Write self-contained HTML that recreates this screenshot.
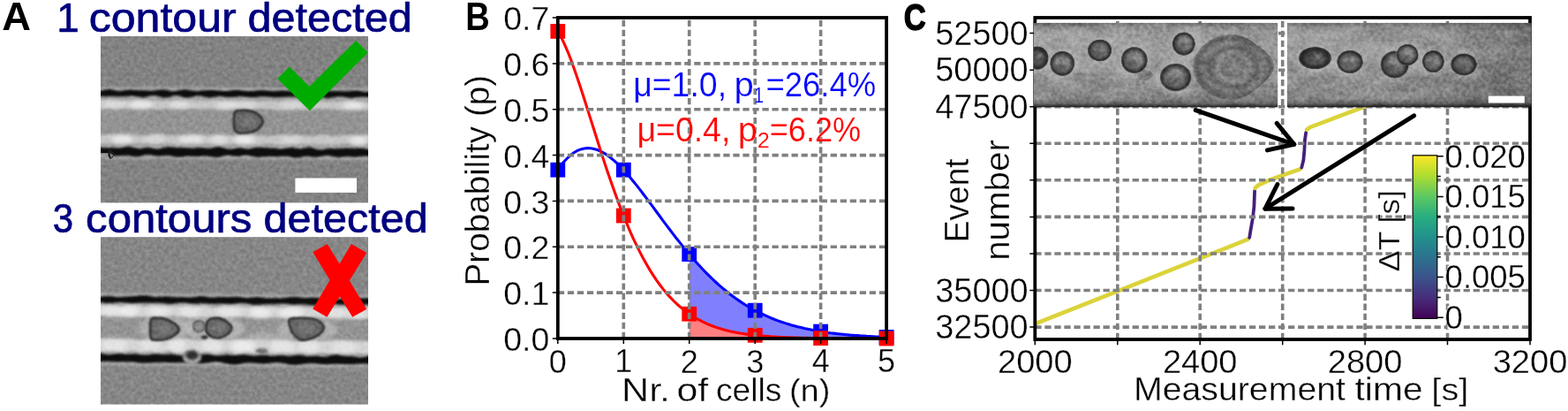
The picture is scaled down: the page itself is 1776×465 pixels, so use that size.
<!DOCTYPE html>
<html lang="en"><head><meta charset="utf-8"><title>Figure</title>
<style>
html,body{margin:0;padding:0;background:#fff;overflow:hidden}
svg{display:block}
text{font-family:"Liberation Sans",sans-serif;white-space:pre}
</style></head><body>
<svg width="1776" height="465" viewBox="0 0 1776 465">
<defs>
<filter id="noise" x="0" y="0" width="100%" height="100%" color-interpolation-filters="sRGB">
<feTurbulence type="fractalNoise" baseFrequency="0.23" numOctaves="2" seed="7"/>
<feColorMatrix type="matrix" values="1.5 0 0 0 -0.25  1.5 0 0 0 -0.25  1.5 0 0 0 -0.25  0 0 0 0 1"/>
</filter>
<filter id="b05" x="-10%" y="-30%" width="120%" height="160%"><feGaussianBlur stdDeviation="0.6"/></filter>
<filter id="b1" x="-10%" y="-30%" width="120%" height="160%"><feGaussianBlur stdDeviation="1"/></filter>
<filter id="b2" x="-10%" y="-30%" width="120%" height="160%"><feGaussianBlur stdDeviation="1.8"/></filter>
<filter id="b3" x="-10%" y="-30%" width="120%" height="160%"><feGaussianBlur stdDeviation="2.6"/></filter>
<clipPath id="cA1"><rect x="114" y="41" width="303" height="188.3"/></clipPath>
<clipPath id="cA2"><rect x="114" y="268.2" width="303" height="189.3"/></clipPath>
<clipPath id="cCax"><rect x="1172.3" y="20.0" width="560.7" height="364.0"/></clipPath>
<linearGradient id="gs" gradientUnits="userSpaceOnUse" x1="0" y1="25.8" x2="0" y2="121.5">
<stop offset="0" stop-color="#6e6e6e"/><stop offset="0.05" stop-color="#8c8c8c"/><stop offset="0.12" stop-color="#9b9b9b"/><stop offset="0.4" stop-color="#9a9a9a"/><stop offset="0.72" stop-color="#909090"/><stop offset="0.9" stop-color="#848484"/><stop offset="0.95" stop-color="#686868"/><stop offset="0.98" stop-color="#383838"/><stop offset="1" stop-color="#101010"/>
</linearGradient>
<linearGradient id="gsh" x1="0" y1="0" x2="1" y2="0"><stop offset="0" stop-color="#000" stop-opacity="0"/><stop offset="0.55" stop-color="#000" stop-opacity="0.04"/><stop offset="1" stop-color="#000" stop-opacity="0.24"/></linearGradient>
<radialGradient id="cg"><stop offset="0" stop-color="#868686"/><stop offset="0.5" stop-color="#777"/><stop offset="0.7" stop-color="#545454"/><stop offset="0.86" stop-color="#2c2c2c"/><stop offset="0.95" stop-color="#565656"/><stop offset="1" stop-color="#909090" stop-opacity="0.2"/></radialGradient>
<radialGradient id="cgd"><stop offset="0" stop-color="#5c5c5c"/><stop offset="0.5" stop-color="#4c4c4c"/><stop offset="0.8" stop-color="#282828"/><stop offset="0.93" stop-color="#343434"/><stop offset="1" stop-color="#6a6a6a" stop-opacity="0.3"/></radialGradient>
<radialGradient id="bg"><stop offset="0" stop-color="#8a8a8a"/><stop offset="0.26" stop-color="#707070"/><stop offset="0.4" stop-color="#828282"/><stop offset="0.58" stop-color="#5e5e5e"/><stop offset="0.74" stop-color="#7a7a7a"/><stop offset="0.9" stop-color="#5c5c5c"/><stop offset="0.97" stop-color="#6c6c6c"/><stop offset="1" stop-color="#909090" stop-opacity="0.2"/></radialGradient>
<filter id="noise2" x="0" y="0" width="100%" height="100%" color-interpolation-filters="sRGB">
<feTurbulence type="fractalNoise" baseFrequency="0.035 0.06" numOctaves="2" seed="23"/>
<feColorMatrix type="matrix" values="2.4 0 0 0 -0.7  2.4 0 0 0 -0.7  2.4 0 0 0 -0.7  0 0 0 0 1"/>
</filter>
<clipPath id="cC1"><rect x="1171.0" y="25.8" width="276.4000000000001" height="95.7"/></clipPath>
<clipPath id="cC2"><rect x="1457.7" y="25.8" width="277.0" height="95.7"/></clipPath>
<linearGradient id="vir" x1="0" y1="1" x2="0" y2="0">
<stop offset="0" stop-color="#440154"/><stop offset="0.125" stop-color="#472d7b"/><stop offset="0.25" stop-color="#3b528b"/><stop offset="0.375" stop-color="#2c728e"/><stop offset="0.5" stop-color="#21918c"/><stop offset="0.625" stop-color="#28ae80"/><stop offset="0.75" stop-color="#5ec962"/><stop offset="0.875" stop-color="#addc30"/><stop offset="1" stop-color="#fde725"/>
</linearGradient>
</defs>
<g clip-path="url(#cA1)">
<rect x="114" y="41" width="303" height="188.3" fill="#828282"/>
<g transform="matrix(1 0.004 0 1 0 -1.062)">
<g filter="url(#b2)">
<rect x="94" y="99.0" width="343" height="81.4" fill="#a6a6a6"/>
<rect x="94" y="112.4" width="343" height="52.19999999999999" fill="#939393"/>
</g>
<g filter="url(#b2)">
<path d="M94.0,113.4 L97.0,113.4 L100.0,113.5 L103.0,113.6 L106.0,113.7 L109.0,113.7 L112.0,113.6 L115.0,113.6 L118.0,113.5 L121.0,113.4 L124.0,113.5 L127.0,113.6 L130.0,113.9 L133.0,114.1 L136.0,114.3 L139.0,114.4 L142.0,114.3 L145.0,114.2 L148.0,114.0 L151.0,113.9 L154.0,113.8 L157.0,113.9 L160.0,114.0 L163.0,114.1 L166.0,114.3 L169.0,114.3 L172.0,114.3 L175.0,114.2 L178.0,114.0 L181.0,113.9 L184.0,113.9 L187.0,114.0 L190.0,114.1 L193.0,114.2 L196.0,114.3 L199.0,114.2 L202.0,114.1 L205.0,113.8 L208.0,113.6 L211.0,113.4 L214.0,113.3 L217.0,113.3 L220.0,113.4 L223.0,113.5 L226.0,113.6 L229.0,113.7 L232.0,113.7 L235.0,113.7 L238.0,113.7 L241.0,113.6 L244.0,113.7 L247.0,113.8 L250.0,114.0 L253.0,114.2 L256.0,114.3 L259.0,114.3 L262.0,114.2 L265.0,114.1 L268.0,113.9 L271.0,113.8 L274.0,113.7 L277.0,113.8 L280.0,114.0 L283.0,114.2 L286.0,114.3 L289.0,114.4 L292.0,114.4 L295.0,114.3 L298.0,114.2 L301.0,114.0 L304.0,114.0 L307.0,114.0 L310.0,114.1 L313.0,114.1 L316.0,114.1 L319.0,114.0 L322.0,113.8 L325.0,113.6 L328.0,113.4 L331.0,113.2 L334.0,113.1 L337.0,113.2 L340.0,113.4 L343.0,113.6 L346.0,113.8 L349.0,113.9 L352.0,114.0 L355.0,113.9 L358.0,113.8 L361.0,113.8 L364.0,113.8 L367.0,113.9 L370.0,114.0 L373.0,114.1 L376.0,114.2 L379.0,114.2 L382.0,114.1 L385.0,113.9 L388.0,113.8 L391.0,113.7 L394.0,113.8 L397.0,113.9 L400.0,114.1 L403.0,114.3 L406.0,114.5 L409.0,114.6 L412.0,114.5 L415.0,114.4 L418.0,114.2 L421.0,114.0 L424.0,113.9 L427.0,113.8 L430.0,113.8 L433.0,113.9 L436.0,113.8 L439.0,113.8 L439.0,123.4 L436.0,123.4 L433.0,123.3 L430.0,123.2 L427.0,123.1 L424.0,123.2 L421.0,123.5 L418.0,123.8 L415.0,124.1 L412.0,124.1 L409.0,123.9 L406.0,123.6 L403.0,123.3 L400.0,123.2 L397.0,123.4 L394.0,123.8 L391.0,124.1 L388.0,124.2 L385.0,124.0 L382.0,123.7 L379.0,123.3 L376.0,123.0 L373.0,122.9 L370.0,122.9 L367.0,123.0 L364.0,123.0 L361.0,122.9 L358.0,122.9 L355.0,123.0 L352.0,123.2 L349.0,123.5 L346.0,123.8 L343.0,123.9 L340.0,123.8 L337.0,123.6 L334.0,123.4 L331.0,123.5 L328.0,123.8 L325.0,124.2 L322.0,124.6 L319.0,124.7 L316.0,124.5 L313.0,124.1 L310.0,123.6 L307.0,123.2 L304.0,123.1 L301.0,123.1 L298.0,123.2 L295.0,123.2 L292.0,123.1 L289.0,123.0 L286.0,122.9 L283.0,122.9 L280.0,123.1 L277.0,123.2 L274.0,123.3 L271.0,123.2 L268.0,123.1 L265.0,123.0 L262.0,123.1 L259.0,123.5 L256.0,124.0 L253.0,124.4 L250.0,124.6 L247.0,124.5 L244.0,124.1 L241.0,123.7 L238.0,123.3 L235.0,123.3 L232.0,123.4 L229.0,123.7 L226.0,123.8 L223.0,123.7 L220.0,123.5 L217.0,123.3 L214.0,123.2 L211.0,123.2 L208.0,123.3 L205.0,123.3 L202.0,123.3 L199.0,123.1 L196.0,123.1 L193.0,123.1 L190.0,123.3 L187.0,123.7 L184.0,124.0 L181.0,124.2 L178.0,124.0 L175.0,123.6 L172.0,123.2 L169.0,122.9 L166.0,122.9 L163.0,123.2 L160.0,123.5 L157.0,123.8 L154.0,123.8 L151.0,123.7 L148.0,123.4 L145.0,123.3 L142.0,123.3 L139.0,123.4 L136.0,123.6 L133.0,123.7 L130.0,123.7 L127.0,123.6 L124.0,123.6 L121.0,123.8 L118.0,124.0 L115.0,124.2 L112.0,124.2 L109.0,124.0 L106.0,123.5 L103.0,123.1 L100.0,122.8 L97.0,122.8 L94.0,123.0Z" fill="#c6c6c6"/>
<path d="M94.0,153.5 L97.0,153.1 L100.0,152.7 L103.0,152.5 L106.0,152.7 L109.0,153.0 L112.0,153.4 L115.0,153.6 L118.0,153.5 L121.0,153.1 L124.0,152.7 L127.0,152.5 L130.0,152.5 L133.0,152.7 L136.0,153.0 L139.0,153.2 L142.0,153.1 L145.0,152.9 L148.0,152.6 L151.0,152.6 L154.0,152.8 L157.0,153.3 L160.0,153.8 L163.0,154.1 L166.0,153.9 L169.0,153.3 L172.0,152.7 L175.0,152.1 L178.0,151.9 L181.0,152.0 L184.0,152.5 L187.0,153.0 L190.0,153.4 L193.0,153.5 L196.0,153.4 L199.0,153.3 L202.0,153.2 L205.0,153.2 L208.0,153.3 L211.0,153.3 L214.0,153.2 L217.0,152.9 L220.0,152.6 L223.0,152.4 L226.0,152.4 L229.0,152.6 L232.0,153.0 L235.0,153.3 L238.0,153.4 L241.0,153.3 L244.0,153.1 L247.0,152.9 L250.0,152.8 L253.0,152.9 L256.0,153.1 L259.0,153.2 L262.0,153.3 L265.0,153.2 L268.0,153.1 L271.0,153.0 L274.0,152.9 L277.0,152.8 L280.0,152.8 L283.0,152.7 L286.0,152.6 L289.0,152.6 L292.0,152.7 L295.0,152.9 L298.0,153.3 L301.0,153.7 L304.0,153.9 L307.0,153.8 L310.0,153.5 L313.0,153.0 L316.0,152.5 L319.0,152.3 L322.0,152.3 L325.0,152.5 L328.0,152.8 L331.0,153.0 L334.0,153.0 L337.0,153.0 L340.0,153.0 L343.0,153.1 L346.0,153.4 L349.0,153.6 L352.0,153.7 L355.0,153.5 L358.0,153.1 L361.0,152.6 L364.0,152.2 L367.0,152.1 L370.0,152.4 L373.0,153.0 L376.0,153.4 L379.0,153.6 L382.0,153.5 L385.0,153.1 L388.0,152.6 L391.0,152.4 L394.0,152.5 L397.0,152.9 L400.0,153.4 L403.0,153.7 L406.0,153.7 L409.0,153.4 L412.0,152.9 L415.0,152.6 L418.0,152.5 L421.0,152.6 L424.0,152.9 L427.0,153.0 L430.0,153.0 L433.0,152.8 L436.0,152.6 L439.0,152.6 L439.0,163.1 L436.0,163.2 L433.0,163.2 L430.0,163.3 L427.0,163.2 L424.0,163.1 L421.0,163.0 L418.0,162.9 L415.0,163.1 L412.0,163.5 L409.0,163.7 L406.0,163.8 L403.0,163.6 L400.0,163.0 L397.0,162.4 L394.0,162.0 L391.0,162.0 L388.0,162.3 L385.0,162.8 L382.0,163.3 L379.0,163.6 L376.0,163.7 L373.0,163.6 L370.0,163.5 L367.0,163.5 L364.0,163.5 L361.0,163.4 L358.0,163.3 L355.0,163.1 L352.0,162.9 L349.0,162.7 L346.0,162.7 L343.0,162.7 L340.0,162.7 L337.0,162.7 L334.0,162.7 L331.0,162.8 L328.0,163.0 L325.0,163.3 L322.0,163.6 L319.0,163.9 L316.0,163.8 L313.0,163.5 L310.0,163.0 L307.0,162.6 L304.0,162.4 L301.0,162.6 L298.0,163.1 L295.0,163.5 L292.0,163.7 L289.0,163.7 L286.0,163.4 L283.0,163.0 L280.0,162.6 L277.0,162.5 L274.0,162.6 L271.0,162.7 L268.0,162.9 L265.0,162.9 L262.0,163.0 L259.0,163.1 L256.0,163.3 L253.0,163.5 L250.0,163.6 L247.0,163.6 L244.0,163.5 L241.0,163.3 L238.0,163.3 L235.0,163.2 L232.0,163.2 L229.0,163.1 L226.0,162.8 L223.0,162.5 L220.0,162.1 L217.0,162.0 L214.0,162.3 L211.0,162.8 L208.0,163.5 L205.0,164.0 L202.0,164.2 L199.0,164.0 L196.0,163.5 L193.0,163.1 L190.0,162.8 L187.0,162.8 L184.0,162.9 L181.0,163.1 L178.0,163.1 L175.0,163.1 L172.0,163.0 L169.0,163.0 L166.0,163.0 L163.0,163.0 L160.0,163.0 L157.0,163.0 L154.0,162.9 L151.0,162.9 L148.0,163.0 L145.0,163.1 L142.0,163.3 L139.0,163.4 L136.0,163.3 L133.0,163.1 L130.0,163.0 L127.0,163.0 L124.0,163.2 L121.0,163.6 L118.0,163.8 L115.0,163.8 L112.0,163.5 L109.0,162.9 L106.0,162.3 L103.0,161.9 L100.0,162.0 L97.0,162.3 L94.0,162.8Z" fill="#c6c6c6"/>
</g>
<g filter="url(#b3)" fill="#f0f0f0">
<ellipse cx="130" cy="118.7" rx="14" ry="4.8" opacity="0.5"/>
<ellipse cx="160" cy="118.7" rx="14" ry="4.8" opacity="0.8"/>
<ellipse cx="203" cy="118.7" rx="12" ry="4.8" opacity="0.6"/>
<ellipse cx="258" cy="118.7" rx="14" ry="4.8" opacity="0.6"/>
<ellipse cx="281" cy="118.7" rx="10" ry="4.8" opacity="0.5"/>
<ellipse cx="330" cy="118.7" rx="12" ry="4.8" opacity="0.4"/>
<ellipse cx="400" cy="118.7" rx="12" ry="4.8" opacity="0.8"/>
<ellipse cx="138" cy="158.1" rx="12" ry="5.0" opacity="0.8"/>
<ellipse cx="175" cy="158.1" rx="12" ry="5.0" opacity="0.4"/>
<ellipse cx="217" cy="158.1" rx="14" ry="5.0" opacity="0.7"/>
<ellipse cx="248" cy="158.1" rx="10" ry="5.0" opacity="0.6"/>
<ellipse cx="277" cy="158.1" rx="12" ry="5.0" opacity="0.9"/>
<ellipse cx="330" cy="158.1" rx="12" ry="5.0" opacity="0.4"/>
<ellipse cx="406" cy="158.1" rx="10" ry="5.0" opacity="0.8"/>
</g>
<g filter="url(#b1)" fill="#0c0c0c">
<path d="M94.0,102.7 L97.0,102.3 L100.0,102.0 L103.0,102.0 L106.0,102.5 L109.0,103.1 L112.0,103.3 L115.0,103.0 L118.0,102.3 L121.0,101.7 L124.0,101.5 L127.0,102.0 L130.0,102.7 L133.0,103.3 L136.0,103.4 L139.0,103.0 L142.0,102.4 L145.0,102.0 L148.0,101.9 L151.0,102.1 L154.0,102.4 L157.0,102.6 L160.0,102.6 L163.0,102.6 L166.0,102.7 L169.0,102.9 L172.0,102.9 L175.0,102.7 L178.0,102.3 L181.0,101.8 L184.0,101.7 L187.0,101.9 L190.0,102.6 L193.0,103.2 L196.0,103.5 L199.0,103.3 L202.0,102.6 L205.0,101.9 L208.0,101.5 L211.0,101.6 L214.0,102.1 L217.0,102.7 L220.0,103.1 L223.0,103.2 L226.0,103.0 L229.0,102.6 L232.0,102.3 L235.0,102.1 L238.0,102.1 L241.0,102.1 L244.0,102.3 L247.0,102.5 L250.0,102.8 L253.0,103.0 L256.0,103.0 L259.0,102.8 L262.0,102.5 L265.0,102.1 L268.0,101.9 L271.0,102.0 L274.0,102.3 L277.0,102.7 L280.0,103.0 L283.0,103.1 L286.0,102.9 L289.0,102.6 L292.0,102.2 L295.0,102.1 L298.0,102.1 L301.0,102.3 L304.0,102.6 L307.0,102.8 L310.0,102.8 L313.0,102.7 L316.0,102.5 L319.0,102.3 L322.0,102.3 L325.0,102.4 L328.0,102.6 L331.0,102.6 L334.0,102.6 L337.0,102.5 L340.0,102.3 L343.0,102.3 L346.0,102.4 L349.0,102.6 L352.0,102.7 L355.0,102.7 L358.0,102.6 L361.0,102.4 L364.0,102.3 L367.0,102.3 L370.0,102.4 L373.0,102.5 L376.0,102.5 L379.0,102.5 L382.0,102.5 L385.0,102.6 L388.0,102.7 L391.0,102.8 L394.0,102.7 L397.0,102.3 L400.0,102.0 L403.0,101.8 L406.0,102.1 L409.0,102.6 L412.0,103.2 L415.0,103.4 L418.0,103.1 L421.0,102.5 L424.0,101.8 L427.0,101.5 L430.0,101.8 L433.0,102.4 L436.0,103.0 L439.0,103.2 L439.0,109.4 L436.0,109.4 L433.0,109.5 L430.0,109.6 L427.0,109.8 L424.0,109.9 L421.0,109.8 L418.0,109.6 L415.0,109.3 L412.0,109.1 L409.0,109.2 L406.0,109.5 L403.0,109.8 L400.0,110.2 L397.0,110.2 L394.0,110.0 L391.0,109.5 L388.0,109.0 L385.0,108.8 L382.0,109.0 L379.0,109.4 L376.0,110.0 L373.0,110.4 L370.0,110.4 L367.0,110.0 L364.0,109.5 L361.0,109.0 L358.0,108.8 L355.0,109.0 L352.0,109.4 L349.0,109.9 L346.0,110.2 L343.0,110.2 L340.0,110.0 L337.0,109.6 L334.0,109.3 L331.0,109.2 L328.0,109.2 L325.0,109.3 L322.0,109.5 L319.0,109.7 L316.0,109.9 L313.0,110.0 L310.0,110.0 L307.0,109.8 L304.0,109.5 L301.0,109.2 L298.0,109.1 L295.0,109.2 L292.0,109.5 L289.0,109.9 L286.0,110.1 L283.0,110.1 L280.0,109.8 L277.0,109.4 L274.0,109.1 L271.0,109.1 L268.0,109.4 L265.0,109.8 L262.0,110.1 L259.0,110.1 L256.0,109.8 L253.0,109.3 L250.0,109.0 L247.0,109.0 L244.0,109.5 L241.0,110.1 L238.0,110.4 L235.0,110.3 L232.0,109.8 L229.0,109.0 L226.0,108.5 L223.0,108.6 L220.0,109.3 L217.0,110.1 L214.0,110.8 L211.0,110.8 L208.0,110.2 L205.0,109.2 L202.0,108.4 L199.0,108.2 L196.0,108.7 L193.0,109.7 L190.0,110.6 L187.0,111.0 L184.0,110.6 L181.0,109.8 L178.0,108.9 L175.0,108.5 L172.0,108.6 L169.0,109.2 L166.0,109.9 L163.0,110.4 L160.0,110.4 L157.0,110.0 L154.0,109.5 L151.0,109.1 L148.0,109.1 L145.0,109.3 L142.0,109.6 L139.0,109.8 L136.0,109.8 L133.0,109.7 L130.0,109.6 L127.0,109.5 L124.0,109.6 L121.0,109.7 L118.0,109.7 L115.0,109.6 L112.0,109.5 L109.0,109.4 L106.0,109.4 L103.0,109.5 L100.0,109.7 L97.0,109.8 L94.0,109.8Z"/>
<path d="M94.0,167.1 L97.0,167.5 L100.0,167.5 L103.0,167.2 L106.0,166.9 L109.0,166.9 L112.0,167.2 L115.0,167.5 L118.0,167.8 L121.0,167.8 L124.0,167.7 L127.0,167.6 L130.0,167.8 L133.0,167.9 L136.0,167.8 L139.0,167.3 L142.0,166.6 L145.0,166.3 L148.0,166.5 L151.0,167.3 L154.0,168.1 L157.0,168.6 L160.0,168.4 L163.0,167.7 L166.0,167.2 L169.0,167.2 L172.0,167.8 L175.0,168.5 L178.0,168.9 L181.0,168.6 L184.0,167.8 L187.0,166.9 L190.0,166.5 L193.0,166.5 L196.0,166.9 L199.0,167.2 L202.0,167.3 L205.0,167.3 L208.0,167.3 L211.0,167.4 L214.0,167.7 L217.0,167.9 L220.0,167.8 L223.0,167.4 L226.0,167.2 L229.0,167.2 L232.0,167.6 L235.0,167.9 L238.0,167.9 L241.0,167.4 L244.0,166.6 L247.0,166.2 L250.0,166.4 L253.0,167.2 L256.0,168.2 L259.0,168.8 L262.0,168.8 L265.0,168.2 L268.0,167.5 L271.0,167.3 L274.0,167.6 L277.0,168.1 L280.0,168.4 L283.0,168.2 L286.0,167.6 L289.0,167.0 L292.0,166.7 L295.0,166.8 L298.0,167.0 L301.0,167.1 L304.0,167.2 L307.0,167.2 L310.0,167.4 L313.0,167.8 L316.0,168.2 L319.0,168.2 L322.0,167.8 L325.0,167.2 L328.0,166.7 L331.0,166.7 L334.0,167.2 L337.0,167.8 L340.0,168.0 L343.0,167.6 L346.0,166.9 L349.0,166.3 L352.0,166.4 L355.0,167.2 L358.0,168.2 L361.0,168.9 L364.0,168.9 L367.0,168.5 L370.0,167.8 L373.0,167.5 L376.0,167.5 L379.0,167.7 L382.0,167.8 L385.0,167.6 L388.0,167.3 L391.0,167.0 L394.0,167.0 L397.0,167.2 L400.0,167.3 L403.0,167.3 L406.0,167.1 L409.0,167.0 L412.0,167.3 L415.0,167.9 L418.0,168.5 L421.0,168.5 L424.0,167.9 L427.0,167.0 L430.0,166.3 L433.0,166.2 L436.0,166.8 L439.0,167.5 L439.0,177.1 L436.0,177.0 L433.0,177.2 L430.0,177.7 L427.0,178.0 L424.0,177.8 L421.0,177.3 L418.0,176.6 L415.0,176.2 L412.0,176.1 L409.0,176.4 L406.0,176.8 L403.0,177.0 L400.0,176.9 L397.0,176.7 L394.0,176.6 L391.0,176.7 L388.0,177.0 L385.0,177.4 L382.0,177.4 L379.0,177.0 L376.0,176.3 L373.0,175.7 L370.0,175.4 L367.0,175.7 L364.0,176.4 L361.0,177.1 L358.0,177.4 L355.0,177.3 L352.0,176.9 L349.0,176.6 L346.0,176.7 L343.0,177.1 L340.0,177.8 L337.0,178.2 L334.0,178.2 L331.0,177.7 L328.0,177.1 L325.0,176.6 L322.0,176.4 L319.0,176.6 L316.0,177.0 L313.0,177.1 L310.0,177.1 L307.0,176.8 L304.0,176.7 L301.0,176.9 L298.0,177.3 L295.0,177.6 L292.0,177.7 L289.0,177.4 L286.0,176.7 L283.0,176.0 L280.0,175.7 L277.0,175.8 L274.0,176.3 L271.0,176.8 L268.0,176.9 L265.0,176.6 L262.0,176.2 L259.0,175.8 L256.0,176.0 L253.0,176.6 L250.0,177.4 L247.0,178.0 L244.0,178.1 L241.0,177.8 L238.0,177.2 L235.0,176.7 L232.0,176.6 L229.0,176.8 L226.0,177.1 L223.0,177.2 L220.0,177.1 L217.0,176.9 L214.0,176.7 L211.0,176.9 L208.0,177.4 L205.0,177.8 L202.0,178.0 L199.0,177.8 L196.0,177.2 L193.0,176.6 L190.0,176.3 L187.0,176.4 L184.0,176.8 L181.0,177.0 L178.0,177.0 L175.0,176.5 L172.0,175.8 L169.0,175.4 L166.0,175.5 L163.0,176.1 L160.0,176.9 L157.0,177.6 L154.0,177.8 L151.0,177.5 L148.0,177.0 L145.0,176.6 L142.0,176.5 L139.0,176.7 L136.0,177.0 L133.0,177.1 L130.0,177.0 L127.0,176.7 L124.0,176.5 L121.0,176.6 L118.0,177.1 L115.0,177.6 L112.0,178.0 L109.0,177.9 L106.0,177.6 L103.0,177.1 L100.0,177.0 L97.0,177.2 L94.0,177.5Z"/>
</g>
</g>
<g filter="url(#b05)"><rect x="112" y="173.2" width="11.5" height="5.5" fill="#989898"/><polygon points="122.5,168 130,174 127.5,178.5 124.5,180 122.5,176" fill="#1c1c1c"/><polygon points="124.5,173 128.5,176 125.5,178.5" fill="#8a8a8a"/></g>
<g filter="url(#b1)"><path d="M266.2,127.2 C267.4,125.3 269.3,125.4 272.1,125.1 C274.9,124.8 279.7,124.9 282.9,125.6 C286.2,126.3 289.3,127.3 291.8,129.2 C294.2,131.1 297.5,134.3 297.7,137.0 C297.8,139.7 295.0,143.3 292.7,145.3 C290.5,147.4 287.3,148.5 283.9,149.3 C280.5,150.1 275.1,150.5 272.1,150.2 C269.2,149.9 267.4,149.5 266.2,147.3 C265.1,145.1 265.1,140.3 265.1,137.0 C265.1,133.7 265.1,129.2 266.2,127.2Z" fill="#686868" stroke="#202020" stroke-width="2.6" stroke-linejoin="round"/><ellipse cx="280.6" cy="137.3" rx="8.3" ry="6.4" fill="#808080" opacity="0.5" filter="url(#b1)"/></g>
<rect x="114" y="41" width="303" height="188.3" filter="url(#noise)" opacity="0.13" style="mix-blend-mode:overlay"/>
<rect x="334.4" y="201.5" width="69.6" height="16.4" fill="#fff"/>
<polygon points="327.9,75.4 314.2,89.1 350.8,125.3 416.8,59.5 403.3,46.1 350.4,97.8" fill="#00ab00"/>
</g>
<g clip-path="url(#cA2)">
<rect x="114" y="268.2" width="303" height="189.3" fill="#868686"/>
<g transform="matrix(1 0.009 0 1 0 -2.389)">
<g filter="url(#b2)">
<rect x="94" y="332.8" width="343" height="81.59999999999997" fill="#a6a6a6"/>
<rect x="94" y="345.4" width="343" height="55.0" fill="#939393"/>
</g>
<g filter="url(#b3)" fill="#bcbcbc">
<ellipse cx="187" cy="372" rx="30" ry="14" opacity="0.7"/>
<ellipse cx="243" cy="372" rx="34" ry="14" opacity="0.8"/>
<ellipse cx="348" cy="372" rx="34" ry="14" opacity="0.7"/>
<ellipse cx="300" cy="385" rx="20" ry="10" opacity="0.6"/>
</g>
<g filter="url(#b2)">
<path d="M94.0,346.4 L97.0,346.8 L100.0,347.1 L103.0,347.3 L106.0,347.1 L109.0,346.8 L112.0,346.7 L115.0,346.7 L118.0,346.8 L121.0,346.9 L124.0,346.7 L127.0,346.6 L130.0,346.7 L133.0,347.1 L136.0,347.7 L139.0,348.0 L142.0,347.8 L145.0,347.1 L148.0,346.4 L151.0,345.9 L154.0,346.0 L157.0,346.4 L160.0,346.9 L163.0,347.1 L166.0,346.9 L169.0,346.7 L172.0,346.7 L175.0,346.9 L178.0,347.3 L181.0,347.5 L184.0,347.4 L187.0,347.1 L190.0,346.8 L193.0,346.7 L196.0,346.8 L199.0,346.9 L202.0,346.9 L205.0,346.8 L208.0,346.6 L211.0,346.7 L214.0,347.0 L217.0,347.3 L220.0,347.4 L223.0,347.0 L226.0,346.4 L229.0,345.9 L232.0,346.0 L235.0,346.5 L238.0,347.3 L241.0,347.8 L244.0,347.9 L247.0,347.5 L250.0,347.1 L253.0,346.8 L256.0,346.8 L259.0,346.9 L262.0,346.9 L265.0,346.6 L268.0,346.3 L271.0,346.2 L274.0,346.4 L277.0,346.8 L280.0,347.1 L283.0,347.1 L286.0,347.0 L289.0,346.8 L292.0,346.9 L295.0,347.2 L298.0,347.4 L301.0,347.4 L304.0,347.0 L307.0,346.5 L310.0,346.2 L313.0,346.4 L316.0,347.0 L319.0,347.6 L322.0,347.8 L325.0,347.4 L328.0,346.8 L331.0,346.2 L334.0,346.1 L337.0,346.3 L340.0,346.6 L343.0,346.8 L346.0,346.9 L349.0,346.9 L352.0,347.1 L355.0,347.4 L358.0,347.6 L361.0,347.6 L364.0,347.3 L367.0,346.8 L370.0,346.5 L373.0,346.5 L376.0,346.7 L379.0,347.0 L382.0,346.9 L385.0,346.6 L388.0,346.3 L391.0,346.2 L394.0,346.6 L397.0,347.3 L400.0,347.7 L403.0,347.7 L406.0,347.2 L409.0,346.6 L412.0,346.3 L415.0,346.4 L418.0,346.8 L421.0,347.2 L424.0,347.4 L427.0,347.3 L430.0,347.1 L433.0,347.1 L436.0,347.1 L439.0,347.0 L439.0,358.1 L436.0,357.9 L433.0,357.7 L430.0,357.8 L427.0,357.9 L424.0,358.2 L421.0,358.5 L418.0,358.9 L415.0,359.2 L412.0,359.5 L409.0,359.7 L406.0,359.8 L403.0,359.8 L400.0,359.7 L397.0,359.6 L394.0,359.4 L391.0,359.3 L388.0,359.2 L385.0,359.1 L382.0,359.1 L379.0,359.1 L376.0,359.0 L373.0,358.9 L370.0,358.8 L367.0,358.7 L364.0,358.6 L361.0,358.5 L358.0,358.4 L355.0,358.4 L352.0,358.5 L349.0,358.6 L346.0,358.8 L343.0,359.0 L340.0,359.2 L337.0,359.3 L334.0,359.4 L331.0,359.4 L328.0,359.3 L325.0,359.2 L322.0,359.1 L319.0,358.9 L316.0,358.9 L313.0,358.8 L310.0,358.9 L307.0,359.0 L304.0,359.2 L301.0,359.3 L298.0,359.5 L295.0,359.5 L292.0,359.5 L289.0,359.4 L286.0,359.2 L283.0,358.9 L280.0,358.7 L277.0,358.5 L274.0,358.3 L271.0,358.2 L268.0,358.2 L265.0,358.4 L262.0,358.5 L259.0,358.7 L256.0,359.0 L253.0,359.1 L250.0,359.3 L247.0,359.4 L244.0,359.4 L241.0,359.4 L238.0,359.3 L235.0,359.3 L232.0,359.3 L229.0,359.3 L226.0,359.4 L223.0,359.4 L220.0,359.4 L217.0,359.4 L214.0,359.3 L211.0,359.1 L208.0,358.9 L205.0,358.7 L202.0,358.5 L199.0,358.3 L196.0,358.2 L193.0,358.2 L190.0,358.3 L187.0,358.5 L184.0,358.7 L181.0,358.9 L178.0,359.2 L175.0,359.3 L172.0,359.5 L169.0,359.5 L166.0,359.4 L163.0,359.3 L160.0,359.2 L157.0,359.2 L154.0,359.1 L151.0,359.1 L148.0,359.2 L145.0,359.2 L142.0,359.3 L139.0,359.4 L136.0,359.4 L133.0,359.3 L130.0,359.2 L127.0,358.9 L124.0,358.7 L121.0,358.5 L118.0,358.3 L115.0,358.1 L112.0,358.1 L109.0,358.2 L106.0,358.4 L103.0,358.6 L100.0,358.9 L97.0,359.1 L94.0,359.4Z" fill="#d4d4d4"/>
<path d="M94.0,384.5 L97.0,384.2 L100.0,384.1 L103.0,384.0 L106.0,384.0 L109.0,384.0 L112.0,384.1 L115.0,384.2 L118.0,384.3 L121.0,384.4 L124.0,384.6 L127.0,384.8 L130.0,384.9 L133.0,384.8 L136.0,384.7 L139.0,384.5 L142.0,384.3 L145.0,384.2 L148.0,384.2 L151.0,384.5 L154.0,384.9 L157.0,385.3 L160.0,385.5 L163.0,385.5 L166.0,385.2 L169.0,384.7 L172.0,384.1 L175.0,383.7 L178.0,383.6 L181.0,383.8 L184.0,384.2 L187.0,384.7 L190.0,385.1 L193.0,385.2 L196.0,384.9 L199.0,384.5 L202.0,383.9 L205.0,383.5 L208.0,383.4 L211.0,383.6 L214.0,384.0 L217.0,384.6 L220.0,385.0 L223.0,385.2 L226.0,385.2 L229.0,384.9 L232.0,384.5 L235.0,384.3 L238.0,384.2 L241.0,384.3 L244.0,384.6 L247.0,384.9 L250.0,385.0 L253.0,385.1 L256.0,384.9 L259.0,384.8 L262.0,384.6 L265.0,384.5 L268.0,384.5 L271.0,384.5 L274.0,384.6 L277.0,384.5 L280.0,384.4 L283.0,384.2 L286.0,384.0 L289.0,383.9 L292.0,384.0 L295.0,384.2 L298.0,384.4 L301.0,384.7 L304.0,384.8 L307.0,384.7 L310.0,384.5 L313.0,384.1 L316.0,383.9 L319.0,383.9 L322.0,384.1 L325.0,384.5 L328.0,384.9 L331.0,385.3 L334.0,385.5 L337.0,385.4 L340.0,385.0 L343.0,384.6 L346.0,384.2 L349.0,384.0 L352.0,384.1 L355.0,384.3 L358.0,384.7 L361.0,385.0 L364.0,385.1 L367.0,385.0 L370.0,384.8 L373.0,384.4 L376.0,384.1 L379.0,383.9 L382.0,383.8 L385.0,383.9 L388.0,384.1 L391.0,384.2 L394.0,384.4 L397.0,384.5 L400.0,384.6 L403.0,384.6 L406.0,384.6 L409.0,384.6 L412.0,384.5 L415.0,384.5 L418.0,384.4 L421.0,384.3 L424.0,384.3 L427.0,384.5 L430.0,384.7 L433.0,385.0 L436.0,385.2 L439.0,385.4 L439.0,398.6 L436.0,398.8 L433.0,399.0 L430.0,399.1 L427.0,399.0 L424.0,398.9 L421.0,398.8 L418.0,398.8 L415.0,398.9 L412.0,399.0 L409.0,398.9 L406.0,398.8 L403.0,398.8 L400.0,398.9 L397.0,399.0 L394.0,399.0 L391.0,398.9 L388.0,398.7 L385.0,398.6 L382.0,398.7 L379.0,399.0 L376.0,399.2 L373.0,399.2 L370.0,399.0 L367.0,398.6 L364.0,398.4 L361.0,398.6 L358.0,399.0 L355.0,399.4 L352.0,399.4 L349.0,399.1 L346.0,398.6 L343.0,398.3 L340.0,398.4 L337.0,398.9 L334.0,399.5 L331.0,399.6 L328.0,399.2 L325.0,398.6 L322.0,398.1 L319.0,398.2 L316.0,398.8 L313.0,399.5 L310.0,399.8 L307.0,399.4 L304.0,398.7 L301.0,398.0 L298.0,398.0 L295.0,398.7 L292.0,399.5 L289.0,399.9 L286.0,399.6 L283.0,398.8 L280.0,398.0 L277.0,397.9 L274.0,398.5 L271.0,399.4 L268.0,400.0 L265.0,399.8 L262.0,399.0 L259.0,398.1 L256.0,397.8 L253.0,398.3 L250.0,399.2 L247.0,400.0 L244.0,399.9 L241.0,399.2 L238.0,398.2 L235.0,397.7 L232.0,398.1 L229.0,399.0 L226.0,399.9 L223.0,400.0 L220.0,399.3 L217.0,398.4 L214.0,397.8 L211.0,398.0 L208.0,398.9 L205.0,399.7 L202.0,400.0 L199.0,399.5 L196.0,398.6 L193.0,397.9 L190.0,397.9 L187.0,398.7 L184.0,399.6 L181.0,399.9 L178.0,399.6 L175.0,398.8 L172.0,398.0 L169.0,398.0 L166.0,398.5 L163.0,399.4 L160.0,399.8 L157.0,399.6 L154.0,398.9 L151.0,398.2 L148.0,398.0 L145.0,398.5 L142.0,399.2 L139.0,399.6 L136.0,399.6 L133.0,399.0 L130.0,398.4 L127.0,398.2 L124.0,398.5 L121.0,399.0 L118.0,399.4 L115.0,399.5 L112.0,399.1 L109.0,398.6 L106.0,398.4 L103.0,398.5 L100.0,398.9 L97.0,399.2 L94.0,399.3Z" fill="#d4d4d4"/>
</g>
<g filter="url(#b3)" fill="#f0f0f0">
<ellipse cx="125" cy="352.9" rx="12" ry="6.1" opacity="0.6"/>
<ellipse cx="145" cy="352.9" rx="12" ry="6.1" opacity="0.8"/>
<ellipse cx="180" cy="352.9" rx="12" ry="6.1" opacity="0.7"/>
<ellipse cx="215" cy="352.9" rx="12" ry="6.1" opacity="0.6"/>
<ellipse cx="260" cy="352.9" rx="14" ry="6.1" opacity="0.6"/>
<ellipse cx="295" cy="352.9" rx="12" ry="6.1" opacity="0.8"/>
<ellipse cx="330" cy="352.9" rx="14" ry="6.1" opacity="0.8"/>
<ellipse cx="380" cy="352.9" rx="12" ry="6.1" opacity="0.5"/>
<ellipse cx="405" cy="352.9" rx="10" ry="6.1" opacity="0.5"/>
<ellipse cx="130" cy="391.7" rx="14" ry="7.2" opacity="0.6"/>
<ellipse cx="170" cy="391.7" rx="12" ry="7.2" opacity="0.5"/>
<ellipse cx="200" cy="391.7" rx="10" ry="7.2" opacity="0.7"/>
<ellipse cx="240" cy="391.7" rx="12" ry="7.2" opacity="0.6"/>
<ellipse cx="275" cy="391.7" rx="14" ry="7.2" opacity="0.8"/>
<ellipse cx="320" cy="391.7" rx="14" ry="7.2" opacity="0.6"/>
<ellipse cx="350" cy="391.7" rx="12" ry="7.2" opacity="0.6"/>
<ellipse cx="390" cy="391.7" rx="14" ry="7.2" opacity="0.5"/>
</g>
<g filter="url(#b1)" fill="#0c0c0c">
<path d="M94.0,335.6 L97.0,335.5 L100.0,335.6 L103.0,335.8 L106.0,336.3 L109.0,336.7 L112.0,337.0 L115.0,336.9 L118.0,336.6 L121.0,336.3 L124.0,336.2 L127.0,336.4 L130.0,336.9 L133.0,337.2 L136.0,337.3 L139.0,337.1 L142.0,336.7 L145.0,336.5 L148.0,336.3 L151.0,336.2 L154.0,336.0 L157.0,335.6 L160.0,335.3 L163.0,335.1 L166.0,335.3 L169.0,335.7 L172.0,336.3 L175.0,336.7 L178.0,336.7 L181.0,336.5 L184.0,336.2 L187.0,336.0 L190.0,336.1 L193.0,336.4 L196.0,336.7 L199.0,336.7 L202.0,336.7 L205.0,336.6 L208.0,336.7 L211.0,336.8 L214.0,336.9 L217.0,336.8 L220.0,336.4 L223.0,335.9 L226.0,335.5 L229.0,335.5 L232.0,335.8 L235.0,336.3 L238.0,336.7 L241.0,336.8 L244.0,336.6 L247.0,336.3 L250.0,336.2 L253.0,336.1 L256.0,336.2 L259.0,336.1 L262.0,335.9 L265.0,335.7 L268.0,335.7 L271.0,335.9 L274.0,336.3 L277.0,336.7 L280.0,336.9 L283.0,336.7 L286.0,336.3 L289.0,335.9 L292.0,335.9 L295.0,336.1 L298.0,336.5 L301.0,336.9 L304.0,337.0 L307.0,336.9 L310.0,336.8 L313.0,336.8 L316.0,336.9 L319.0,336.8 L322.0,336.5 L325.0,336.0 L328.0,335.5 L331.0,335.2 L334.0,335.2 L337.0,335.6 L340.0,336.1 L343.0,336.3 L346.0,336.3 L349.0,336.1 L352.0,335.9 L355.0,335.8 L358.0,336.1 L361.0,336.3 L364.0,336.6 L367.0,336.6 L370.0,336.7 L373.0,336.8 L376.0,337.0 L379.0,337.4 L382.0,337.5 L385.0,337.3 L388.0,336.8 L391.0,336.1 L394.0,335.6 L397.0,335.4 L400.0,335.6 L403.0,335.9 L406.0,336.1 L409.0,336.1 L412.0,336.0 L415.0,335.9 L418.0,335.9 L421.0,336.1 L424.0,336.2 L427.0,336.2 L430.0,336.0 L433.0,335.9 L436.0,336.0 L439.0,336.3 L439.0,343.0 L436.0,343.0 L433.0,343.3 L430.0,343.5 L427.0,343.7 L424.0,343.6 L421.0,343.4 L418.0,343.2 L415.0,343.2 L412.0,343.4 L409.0,343.9 L406.0,344.3 L403.0,344.6 L400.0,344.7 L397.0,344.4 L394.0,344.1 L391.0,343.8 L388.0,343.6 L385.0,343.5 L382.0,343.3 L379.0,343.1 L376.0,342.9 L373.0,342.8 L370.0,342.9 L367.0,343.2 L364.0,343.7 L361.0,344.3 L358.0,344.6 L355.0,344.6 L352.0,344.3 L349.0,343.9 L346.0,343.6 L343.0,343.5 L340.0,343.6 L337.0,343.8 L334.0,343.9 L331.0,343.9 L328.0,343.6 L325.0,343.3 L322.0,343.1 L319.0,343.1 L316.0,343.3 L313.0,343.5 L310.0,343.6 L307.0,343.7 L304.0,343.7 L301.0,343.8 L298.0,344.0 L295.0,344.3 L292.0,344.5 L289.0,344.6 L286.0,344.4 L283.0,343.9 L280.0,343.3 L277.0,342.9 L274.0,342.7 L271.0,342.9 L268.0,343.3 L265.0,343.7 L262.0,343.9 L259.0,344.0 L256.0,343.8 L253.0,343.7 L250.0,343.7 L247.0,343.8 L244.0,344.0 L241.0,344.0 L238.0,343.9 L235.0,343.7 L232.0,343.6 L229.0,343.6 L226.0,343.7 L223.0,343.9 L220.0,344.0 L217.0,343.9 L214.0,343.6 L211.0,343.2 L208.0,342.9 L205.0,343.0 L202.0,343.3 L199.0,343.8 L196.0,344.3 L193.0,344.5 L190.0,344.4 L187.0,344.1 L184.0,343.8 L181.0,343.5 L178.0,343.5 L175.0,343.5 L172.0,343.6 L169.0,343.6 L166.0,343.5 L163.0,343.4 L160.0,343.4 L157.0,343.6 L154.0,343.9 L151.0,344.1 L148.0,344.1 L145.0,343.9 L142.0,343.5 L139.0,343.2 L136.0,343.2 L133.0,343.4 L130.0,343.8 L127.0,344.1 L124.0,344.3 L121.0,344.2 L118.0,343.9 L115.0,343.5 L112.0,343.3 L109.0,343.3 L106.0,343.4 L103.0,343.6 L100.0,343.8 L97.0,343.7 L94.0,343.7Z"/>
<path d="M94.0,401.6 L97.0,401.8 L100.0,402.2 L103.0,402.3 L106.0,402.0 L109.0,401.6 L112.0,401.3 L115.0,401.3 L118.0,401.8 L121.0,402.2 L124.0,402.4 L127.0,402.1 L130.0,401.7 L133.0,401.3 L136.0,401.3 L139.0,401.6 L142.0,401.9 L145.0,402.0 L148.0,401.8 L151.0,401.5 L154.0,401.4 L157.0,401.7 L160.0,402.3 L163.0,402.6 L166.0,402.6 L169.0,402.2 L172.0,401.6 L175.0,401.2 L178.0,401.3 L181.0,401.5 L184.0,401.7 L187.0,401.7 L190.0,401.4 L193.0,401.2 L196.0,401.4 L199.0,401.9 L202.0,402.5 L205.0,402.8 L208.0,402.7 L211.0,402.2 L214.0,401.7 L217.0,401.4 L220.0,401.5 L223.0,401.7 L226.0,401.8 L229.0,401.5 L232.0,401.2 L235.0,401.0 L238.0,401.3 L241.0,401.9 L244.0,402.4 L247.0,402.6 L250.0,402.4 L253.0,402.0 L256.0,401.6 L259.0,401.6 L262.0,401.9 L265.0,402.1 L268.0,402.0 L271.0,401.6 L274.0,401.2 L277.0,401.1 L280.0,401.4 L283.0,401.9 L286.0,402.3 L289.0,402.3 L292.0,401.9 L295.0,401.5 L298.0,401.4 L301.0,401.6 L304.0,402.1 L307.0,402.3 L310.0,402.2 L313.0,401.9 L316.0,401.6 L319.0,401.5 L322.0,401.8 L325.0,402.2 L328.0,402.2 L331.0,401.9 L334.0,401.4 L337.0,401.0 L340.0,401.0 L343.0,401.4 L346.0,401.9 L349.0,402.2 L352.0,402.2 L355.0,402.0 L358.0,401.9 L361.0,402.1 L364.0,402.5 L367.0,402.7 L370.0,402.4 L373.0,401.8 L376.0,401.1 L379.0,400.6 L382.0,400.6 L385.0,401.0 L388.0,401.5 L391.0,401.8 L394.0,401.8 L397.0,401.9 L400.0,402.1 L403.0,402.6 L406.0,403.1 L409.0,403.2 L412.0,402.8 L415.0,402.0 L418.0,401.1 L421.0,400.6 L424.0,400.6 L427.0,400.9 L430.0,401.1 L433.0,401.2 L436.0,401.2 L439.0,401.4 L439.0,411.3 L436.0,411.5 L433.0,411.7 L430.0,411.7 L427.0,411.6 L424.0,411.3 L421.0,410.9 L418.0,410.6 L415.0,410.3 L412.0,410.2 L409.0,410.3 L406.0,410.5 L403.0,410.7 L400.0,410.9 L397.0,411.0 L394.0,411.0 L391.0,410.9 L388.0,410.8 L385.0,410.8 L382.0,410.8 L379.0,410.8 L376.0,411.0 L373.0,411.1 L370.0,411.2 L367.0,411.2 L364.0,411.0 L361.0,410.8 L358.0,410.5 L355.0,410.3 L352.0,410.2 L349.0,410.3 L346.0,410.7 L343.0,411.2 L340.0,411.7 L337.0,412.1 L334.0,412.2 L331.0,412.2 L328.0,411.8 L325.0,411.3 L322.0,410.7 L319.0,410.1 L316.0,409.8 L313.0,409.7 L310.0,409.9 L307.0,410.3 L304.0,410.7 L301.0,411.0 L298.0,411.2 L295.0,411.1 L292.0,410.9 L289.0,410.6 L286.0,410.4 L283.0,410.2 L280.0,410.3 L277.0,410.7 L274.0,411.2 L271.0,411.7 L268.0,412.2 L265.0,412.4 L262.0,412.3 L259.0,411.9 L256.0,411.3 L253.0,410.7 L250.0,410.1 L247.0,409.7 L244.0,409.6 L241.0,409.8 L238.0,410.2 L235.0,410.7 L232.0,411.1 L229.0,411.4 L226.0,411.5 L223.0,411.4 L220.0,411.1 L217.0,410.9 L214.0,410.6 L211.0,410.5 L208.0,410.5 L205.0,410.7 L202.0,410.8 L199.0,411.0 L196.0,411.1 L193.0,411.1 L190.0,411.0 L187.0,410.8 L184.0,410.7 L181.0,410.7 L178.0,410.8 L175.0,411.0 L172.0,411.2 L169.0,411.5 L166.0,411.6 L163.0,411.6 L160.0,411.5 L157.0,411.2 L154.0,410.9 L151.0,410.6 L148.0,410.4 L145.0,410.4 L142.0,410.4 L139.0,410.5 L136.0,410.6 L133.0,410.7 L130.0,410.6 L127.0,410.5 L124.0,410.3 L121.0,410.2 L118.0,410.3 L115.0,410.5 L112.0,410.9 L109.0,411.4 L106.0,411.9 L103.0,412.2 L100.0,412.4 L97.0,412.3 L94.0,411.9Z"/>
</g>
</g>
<g filter="url(#b1)"><path d="M171.2,361.3 C172.4,359.3 174.3,359.9 177.1,359.9 C179.9,359.9 184.7,360.3 187.9,361.3 C191.2,362.2 194.3,363.8 196.8,365.7 C199.3,367.5 202.9,370.0 202.9,372.4 C202.9,374.8 199.3,377.9 196.8,379.8 C194.3,381.7 191.2,382.9 187.9,383.7 C184.7,384.5 179.9,384.8 177.1,384.7 C174.3,384.6 172.4,385.4 171.2,383.2 C170.1,381.1 170.1,375.7 170.1,372.0 C170.1,368.3 170.1,363.3 171.2,361.3Z" fill="#686868" stroke="#202020" stroke-width="2.6" stroke-linejoin="round"/><ellipse cx="185.4" cy="372.4" rx="8.3" ry="6.3" fill="#808080" opacity="0.5" filter="url(#b1)"/></g>
<g filter="url(#b1)"><path d="M234.3,365.2 C235.2,362.8 236.9,361.6 239.2,360.8 C241.4,359.9 245.2,359.7 248.0,360.1 C250.7,360.5 253.4,361.4 255.8,363.2 C258.2,365.0 262.2,368.4 262.4,371.0 C262.5,373.6 259.2,376.9 256.8,378.8 C254.4,380.6 250.9,381.9 248.0,382.2 C245.0,382.5 241.5,381.9 239.2,380.7 C236.8,379.5 234.6,377.5 233.8,374.9 C232.9,372.3 233.4,367.5 234.3,365.2Z" fill="#686868" stroke="#202020" stroke-width="2.6" stroke-linejoin="round"/><ellipse cx="247.9" cy="370.8" rx="7.3" ry="5.7" fill="#808080" opacity="0.5" filter="url(#b1)"/></g>
<g filter="url(#b1)"><circle cx="225.3" cy="369.2" r="6.3" fill="#8e8e8e" stroke="#4c4c4c" stroke-width="2"/><ellipse cx="231.5" cy="381.5" rx="4" ry="2.2" fill="#333"/></g>
<g filter="url(#b1)"><path d="M327.9,361.7 C329.0,360.2 331.5,360.3 335.2,360.1 C338.8,359.8 345.8,359.8 349.9,360.3 C354.0,360.7 357.0,361.0 359.8,362.7 C362.6,364.4 366.6,367.8 366.8,370.5 C366.9,373.2 363.6,376.6 360.8,378.8 C358.0,381.0 353.4,382.8 349.9,383.7 C346.5,384.6 343.0,385.1 340.1,384.2 C337.1,383.2 334.2,380.3 332.2,377.8 C330.2,375.3 329.0,371.7 328.3,369.0 C327.5,366.4 326.7,363.2 327.9,361.7Z" fill="#686868" stroke="#202020" stroke-width="2.6" stroke-linejoin="round"/><ellipse cx="346.6" cy="370.9" rx="9.9" ry="6.2" fill="#808080" opacity="0.5" filter="url(#b1)"/></g>
<g filter="url(#b2)"><ellipse cx="217.5" cy="404" rx="10.5" ry="8.5" fill="#a4a4a4"/><ellipse cx="217.5" cy="401.8" rx="7.5" ry="5.5" fill="#2e2e2e"/><ellipse cx="296.5" cy="397" rx="7" ry="3" fill="#6a6a6a"/></g>
<rect x="114" y="268.2" width="303" height="189.3" filter="url(#noise)" opacity="0.13" style="mix-blend-mode:overlay"/>
<polygon points="354.3,285.3 370.8,276.1 415.3,349.8 399.2,358.8" fill="#f00"/>
<polygon points="398,276.1 415.3,286 370.4,358.8 354.3,349.4" fill="#f00"/>
</g>
<polygon points="780.7,287.6 784.4,292.0 788.2,296.2 791.9,300.3 795.6,304.3 799.3,308.2 803.1,311.9 806.8,315.5 810.5,319.0 814.2,322.4 818.0,325.6 821.7,328.7 825.4,331.7 829.1,334.5 832.8,337.3 836.6,339.9 840.3,342.4 844.0,344.7 847.7,347.0 851.5,349.2 855.2,351.2 858.9,353.2 862.6,355.0 866.3,356.7 870.1,358.4 873.8,360.0 877.5,361.5 881.2,362.9 885.0,364.2 888.7,365.4 892.4,366.6 896.1,367.7 899.9,368.7 903.6,369.7 907.3,370.6 911.0,371.5 914.7,372.3 918.5,373.1 922.2,373.8 925.9,374.4 929.6,375.1 933.4,375.6 937.1,376.2 940.8,376.7 944.5,377.1 948.3,377.6 952.0,378.0 955.7,378.4 959.4,378.7 963.1,379.1 966.9,379.4 970.6,379.6 974.3,379.9 978.0,380.1 981.8,380.4 985.5,380.6 989.2,380.8 992.9,381.0 996.7,381.1 1000.4,381.3 1004.1,381.4 1004.1,383.0 780.7,383.0" fill="#8080ff"/>
<polygon points="780.7,355.2 784.4,357.6 788.2,359.9 791.9,362.0 795.6,363.9 799.3,365.6 803.1,367.3 806.8,368.7 810.5,370.1 814.2,371.3 818.0,372.4 821.7,373.4 825.4,374.4 829.1,375.2 832.8,376.0 836.6,376.7 840.3,377.3 844.0,377.9 847.7,378.4 851.5,378.9 855.2,379.3 858.9,379.7 862.6,380.0 866.3,380.3 870.1,380.6 873.8,380.9 877.5,381.1 881.2,381.3 885.0,381.5 888.7,381.6 892.4,381.8 896.1,381.9 899.9,382.0 903.6,382.1 907.3,382.2 911.0,382.3 914.7,382.4 918.5,382.5 922.2,382.5 925.9,382.6 929.6,382.6 933.4,382.7 937.1,382.7 940.8,382.7 944.5,382.8 948.3,382.8 952.0,382.8 955.7,382.8 959.4,382.9 963.1,382.9 966.9,382.9 970.6,382.9 974.3,382.9 978.0,382.9 981.8,382.9 985.5,382.9 989.2,383.0 992.9,383.0 996.7,383.0 1000.4,383.0 1004.1,383.0 1004.1,383.0 780.7,383.0" fill="#ff8080"/>
<polyline points="631.8,192.2 635.5,187.0 639.2,182.5 643.0,178.5 646.7,175.2 650.4,172.5 654.1,170.4 657.9,168.9 661.6,168.0 665.3,167.6 669.0,167.7 672.8,168.4 676.5,169.5 680.2,171.1 683.9,173.0 687.6,175.4 691.4,178.2 695.1,181.3 698.8,184.6 702.5,188.3 706.3,192.2 710.0,196.4 713.7,200.7 717.4,205.2 721.2,209.9 724.9,214.6 728.6,219.5 732.3,224.4 736.0,229.4 739.8,234.4 743.5,239.5 747.2,244.5 750.9,249.6 754.7,254.6 758.4,259.5 762.1,264.4 765.8,269.2 769.6,273.9 773.3,278.6 777.0,283.2 780.7,287.6 784.4,292.0 788.2,296.2 791.9,300.3 795.6,304.3 799.3,308.2 803.1,311.9 806.8,315.5 810.5,319.0 814.2,322.4 818.0,325.6 821.7,328.7 825.4,331.7 829.1,334.5 832.8,337.3 836.6,339.9 840.3,342.4 844.0,344.7 847.7,347.0 851.5,349.2 855.2,351.2 858.9,353.2 862.6,355.0 866.3,356.7 870.1,358.4 873.8,360.0 877.5,361.5 881.2,362.9 885.0,364.2 888.7,365.4 892.4,366.6 896.1,367.7 899.9,368.7 903.6,369.7 907.3,370.6 911.0,371.5 914.7,372.3 918.5,373.1 922.2,373.8 925.9,374.4 929.6,375.1 933.4,375.6 937.1,376.2 940.8,376.7 944.5,377.1 948.3,377.6 952.0,378.0 955.7,378.4 959.4,378.7 963.1,379.1 966.9,379.4 970.6,379.6 974.3,379.9 978.0,380.1 981.8,380.4 985.5,380.6 989.2,380.8 992.9,381.0 996.7,381.1 1000.4,381.3 1004.1,381.4" fill="none" stroke="#0000ff" stroke-width="3.1"/>
<rect x="623.4" y="183.8" width="16.8" height="16.8" fill="#0000ff"/>
<rect x="697.9" y="183.8" width="16.8" height="16.8" fill="#0000ff"/>
<rect x="772.3" y="279.2" width="16.8" height="16.8" fill="#0000ff"/>
<rect x="846.8" y="342.8" width="16.8" height="16.8" fill="#0000ff"/>
<rect x="921.2" y="366.7" width="16.8" height="16.8" fill="#0000ff"/>
<rect x="995.7" y="373.0" width="16.8" height="16.8" fill="#0000ff"/>
<polyline points="631.8,35.4 635.5,41.9 639.2,49.6 643.0,58.3 646.7,67.8 650.4,78.0 654.1,88.8 657.9,100.0 661.6,111.4 665.3,123.1 669.0,134.9 672.8,146.7 676.5,158.5 680.2,170.1 683.9,181.6 687.6,192.8 691.4,203.7 695.1,214.3 698.8,224.6 702.5,234.4 706.3,244.0 710.0,253.1 713.7,261.8 717.4,270.1 721.2,277.9 724.9,285.4 728.6,292.5 732.3,299.1 736.0,305.4 739.8,311.3 743.5,316.8 747.2,322.0 750.9,326.9 754.7,331.4 758.4,335.6 762.1,339.5 765.8,343.2 769.6,346.5 773.3,349.6 777.0,352.5 780.7,355.2 784.4,357.6 788.2,359.9 791.9,362.0 795.6,363.9 799.3,365.6 803.1,367.3 806.8,368.7 810.5,370.1 814.2,371.3 818.0,372.4 821.7,373.4 825.4,374.4 829.1,375.2 832.8,376.0 836.6,376.7 840.3,377.3 844.0,377.9 847.7,378.4 851.5,378.9 855.2,379.3 858.9,379.7 862.6,380.0 866.3,380.3 870.1,380.6 873.8,380.9 877.5,381.1 881.2,381.3 885.0,381.5 888.7,381.6 892.4,381.8 896.1,381.9 899.9,382.0 903.6,382.1 907.3,382.2 911.0,382.3 914.7,382.4 918.5,382.5 922.2,382.5 925.9,382.6 929.6,382.6 933.4,382.7 937.1,382.7 940.8,382.7 944.5,382.8 948.3,382.8 952.0,382.8 955.7,382.8 959.4,382.9 963.1,382.9 966.9,382.9 970.6,382.9 974.3,382.9 978.0,382.9 981.8,382.9 985.5,382.9 989.2,383.0 992.9,383.0 996.7,383.0 1000.4,383.0 1004.1,383.0" fill="none" stroke="#ff0000" stroke-width="3.1"/>
<rect x="623.4" y="27.0" width="16.8" height="16.8" fill="#ff0000"/>
<rect x="697.9" y="235.6" width="16.8" height="16.8" fill="#ff0000"/>
<rect x="772.3" y="346.8" width="16.8" height="16.8" fill="#ff0000"/>
<rect x="846.8" y="370.9" width="16.8" height="16.8" fill="#ff0000"/>
<rect x="921.2" y="374.2" width="16.8" height="16.8" fill="#ff0000"/>
<rect x="995.7" y="374.6" width="16.8" height="16.8" fill="#ff0000"/>
<path d="M706.3,383.0 V20.0 M780.7,383.0 V20.0 M855.2,383.0 V20.0 M929.6,383.0 V20.0 M631.8,331.1 H1004.1 M631.8,279.3 H1004.1 M631.8,227.4 H1004.1 M631.8,175.6 H1004.1 M631.8,123.7 H1004.1 M631.8,71.9 H1004.1" fill="none" stroke="#808080" stroke-width="3.6" stroke-dasharray="7.3 3.73"/>
<path d="M631.8,383.0 v6 M706.3,383.0 v6 M780.7,383.0 v6 M855.2,383.0 v6 M929.6,383.0 v6 M1004.1,383.0 v6 M631.8,383.0 h-6 M631.8,331.1 h-6 M631.8,279.3 h-6 M631.8,227.4 h-6 M631.8,175.6 h-6 M631.8,123.7 h-6 M631.8,71.9 h-6 M631.8,20.0 h-6" stroke="#000" stroke-width="1.5" fill="none"/>
<rect x="631.8" y="20.0" width="372.30000000000007" height="363.0" fill="none" stroke="#000" stroke-width="3.8"/>
<g clip-path="url(#cCax)">
<polyline points="1165.0,369.3 1405.0,274.2 1413.6,270.6" fill="none" stroke="#dbd33a" stroke-width="4.6" stroke-linecap="round" stroke-linejoin="round"/>
<polyline points="1415.2,268.8 1416.6,260.0 1419.0,246.5 1420.4,234.0 1421.1,216.0" fill="none" stroke="#45207a" stroke-width="3.8" stroke-linecap="round" stroke-linejoin="round"/>
<polyline points="1421.6,212.8 1425.5,209.3 1438.0,203.6 1455.0,197.5 1472.6,191.4" fill="none" stroke="#dbd33a" stroke-width="4.6" stroke-linecap="round" stroke-linejoin="round"/>
<polyline points="1474.3,189.6 1476.4,181.0 1477.4,170.0 1478.0,158.0 1479.2,150.0" fill="none" stroke="#45207a" stroke-width="3.8" stroke-linecap="round" stroke-linejoin="round"/>
<polyline points="1480.2,146.6 1484.0,143.8 1500.0,137.8 1542.0,122.0 1556.0,116.8" fill="none" stroke="#dbd33a" stroke-width="4.6" stroke-linecap="round" stroke-linejoin="round"/>
</g>
<path d="M1265.8,384.0 V20.0 M1359.2,384.0 V20.0 M1452.7,384.0 V20.0 M1546.1,384.0 V20.0 M1639.5,384.0 V20.0 M1172.3,370.1 H1733.0 M1172.3,328.5 H1733.0 M1172.3,287.0 H1733.0 M1172.3,245.4 H1733.0 M1172.3,203.8 H1733.0 M1172.3,162.3 H1733.0 M1172.3,120.7 H1733.0 M1172.3,79.2 H1733.0 M1172.3,37.6 H1733.0" fill="none" stroke="#808080" stroke-width="3.6" stroke-dasharray="7.3 3.73"/>
<path d="M1172.3,384.0 v6.3 M1265.8,384.0 v6.3 M1359.2,384.0 v6.3 M1452.7,384.0 v6.3 M1546.1,384.0 v6.3 M1639.5,384.0 v6.3 M1733.0,384.0 v6.3 M1172.3,370.1 h-6 M1172.3,328.5 h-6 M1172.3,287.0 h-6 M1172.3,245.4 h-6 M1172.3,203.8 h-6 M1172.3,162.3 h-6 M1172.3,120.7 h-6 M1172.3,79.2 h-6 M1172.3,37.6 h-6" stroke="#000" stroke-width="1.5" fill="none"/>
<rect x="1172.3" y="20.0" width="560.7" height="364.0" fill="none" stroke="#000" stroke-width="3.8"/>
<g clip-path="url(#cC1)"><rect x="1171.0" y="25.8" width="276.4000000000001" height="95.7" fill="url(#gs)"/><g filter="url(#b05)"><ellipse cx="1297" cy="85" rx="9" ry="6" fill="#666" opacity="0.7"/><path d="M1350.5,76.0 C1350.3,67.3 1355.2,57.2 1361.0,51.0 C1366.8,44.8 1376.0,39.5 1385.0,38.5 C1394.0,37.5 1405.2,39.1 1415.0,45.0 C1424.8,50.9 1442.8,64.2 1443.5,74.0 C1444.2,83.8 1428.1,97.3 1419.0,104.0 C1409.9,110.7 1398.5,114.2 1389.0,114.0 C1379.5,113.8 1368.4,109.3 1362.0,103.0 C1355.6,96.7 1350.7,84.7 1350.5,76.0Z" fill="url(#bg)"/>
<g filter="url(#b3)" fill="#b4b4b4" opacity="0.55"><ellipse cx="1174.9" cy="65.6" rx="17.5" ry="18.0"/><ellipse cx="1203.3" cy="71.8" rx="19.0" ry="19.0"/><ellipse cx="1245.7" cy="57" rx="18.5" ry="17.3"/><ellipse cx="1284.8" cy="68" rx="20.0" ry="20.0"/><ellipse cx="1340.8" cy="49.6" rx="17.8" ry="18.1"/><ellipse cx="1331.6" cy="87.5" rx="22.8" ry="20.8"/></g>
<ellipse cx="1174.9" cy="65.6" rx="13" ry="13.5" fill="url(#cgd)"/><ellipse cx="1172.3" cy="69.4" rx="4.9" ry="4.0" fill="#3c3c3c" opacity="0.4" filter="url(#b1)"/><ellipse cx="1177.5" cy="62.9" rx="3.2" ry="2.7" fill="#a0a0a0" opacity="0.3" filter="url(#b1)"/>
<ellipse cx="1203.3" cy="71.8" rx="14.5" ry="14.5" fill="url(#cg)"/><ellipse cx="1200.4" cy="75.9" rx="5.5" ry="4.3" fill="#3c3c3c" opacity="0.4" filter="url(#b1)"/><ellipse cx="1206.2" cy="68.9" rx="3.6" ry="2.9" fill="#a0a0a0" opacity="0.3" filter="url(#b1)"/>
<ellipse cx="1245.7" cy="57" rx="14" ry="12.8" fill="url(#cg)"/><ellipse cx="1242.9" cy="60.6" rx="5.3" ry="3.8" fill="#3c3c3c" opacity="0.4" filter="url(#b1)"/><ellipse cx="1248.5" cy="54.4" rx="3.5" ry="2.6" fill="#a0a0a0" opacity="0.3" filter="url(#b1)"/>
<ellipse cx="1284.8" cy="68" rx="15.5" ry="15.5" fill="url(#cg)"/><ellipse cx="1281.7" cy="72.3" rx="5.9" ry="4.6" fill="#3c3c3c" opacity="0.4" filter="url(#b1)"/><ellipse cx="1287.9" cy="64.9" rx="3.9" ry="3.1" fill="#a0a0a0" opacity="0.3" filter="url(#b1)"/>
<ellipse cx="1340.8" cy="49.6" rx="13.3" ry="13.6" fill="url(#cg)"/><ellipse cx="1338.1" cy="53.4" rx="5.1" ry="4.1" fill="#3c3c3c" opacity="0.4" filter="url(#b1)"/><ellipse cx="1343.5" cy="46.9" rx="3.3" ry="2.7" fill="#a0a0a0" opacity="0.3" filter="url(#b1)"/>
<ellipse cx="1331.6" cy="87.5" rx="18.3" ry="16.3" fill="url(#cg)"/><ellipse cx="1327.9" cy="92.1" rx="7.0" ry="4.9" fill="#3c3c3c" opacity="0.4" filter="url(#b1)"/><ellipse cx="1335.3" cy="84.2" rx="4.6" ry="3.3" fill="#a0a0a0" opacity="0.3" filter="url(#b1)"/>
</g><rect x="1171.0" y="25.8" width="276.4000000000001" height="95.7" filter="url(#noise2)" opacity="0.1" style="mix-blend-mode:overlay"/><rect x="1171.0" y="25.8" width="276.4000000000001" height="95.7" filter="url(#noise)" opacity="0.2" style="mix-blend-mode:overlay"/></g>
<g clip-path="url(#cC2)"><rect x="1457.7" y="25.8" width="277.0" height="95.7" fill="url(#gs)"/><g filter="url(#b05)">
<g filter="url(#b3)" fill="#b4b4b4" opacity="0.55"><ellipse cx="1489.5" cy="65.7" rx="23.5" ry="17.5"/><ellipse cx="1529" cy="70" rx="19.8" ry="18.0"/><ellipse cx="1579.7" cy="73" rx="21.0" ry="20.5"/><ellipse cx="1594" cy="62" rx="17.5" ry="17.0"/><ellipse cx="1623.4" cy="69.6" rx="17.3" ry="17.5"/><ellipse cx="1658" cy="73" rx="19.7" ry="17.3"/></g>
<ellipse cx="1489.5" cy="65.7" rx="19" ry="13" fill="url(#cgd)"/><ellipse cx="1485.7" cy="69.3" rx="7.2" ry="3.9" fill="#3c3c3c" opacity="0.4" filter="url(#b1)"/><ellipse cx="1493.3" cy="63.1" rx="4.8" ry="2.6" fill="#a0a0a0" opacity="0.3" filter="url(#b1)"/>
<ellipse cx="1529" cy="70" rx="15.3" ry="13.5" fill="url(#cg)"/><ellipse cx="1525.9" cy="73.8" rx="5.8" ry="4.0" fill="#3c3c3c" opacity="0.4" filter="url(#b1)"/><ellipse cx="1532.1" cy="67.3" rx="3.8" ry="2.7" fill="#a0a0a0" opacity="0.3" filter="url(#b1)"/>
<ellipse cx="1579.7" cy="73" rx="16.5" ry="16" fill="url(#cg)"/><ellipse cx="1576.4" cy="77.5" rx="6.3" ry="4.8" fill="#3c3c3c" opacity="0.4" filter="url(#b1)"/><ellipse cx="1583.0" cy="69.8" rx="4.1" ry="3.2" fill="#a0a0a0" opacity="0.3" filter="url(#b1)"/>
<ellipse cx="1594" cy="62" rx="13" ry="12.5" fill="url(#cg)"/><ellipse cx="1591.4" cy="65.5" rx="4.9" ry="3.8" fill="#3c3c3c" opacity="0.4" filter="url(#b1)"/><ellipse cx="1596.6" cy="59.5" rx="3.2" ry="2.5" fill="#a0a0a0" opacity="0.3" filter="url(#b1)"/>
<ellipse cx="1623.4" cy="69.6" rx="12.8" ry="13" fill="url(#cg)"/><ellipse cx="1620.8" cy="73.2" rx="4.9" ry="3.9" fill="#3c3c3c" opacity="0.4" filter="url(#b1)"/><ellipse cx="1626.0" cy="67.0" rx="3.2" ry="2.6" fill="#a0a0a0" opacity="0.3" filter="url(#b1)"/>
<ellipse cx="1658" cy="73" rx="15.2" ry="12.8" fill="url(#cg)"/><ellipse cx="1655.0" cy="76.6" rx="5.8" ry="3.8" fill="#3c3c3c" opacity="0.4" filter="url(#b1)"/><ellipse cx="1661.0" cy="70.4" rx="3.8" ry="2.6" fill="#a0a0a0" opacity="0.3" filter="url(#b1)"/>
<rect x="1457.7" y="25.8" width="277.0" height="95.7" fill="url(#gsh)"/>
</g><rect x="1457.7" y="25.8" width="277.0" height="95.7" filter="url(#noise2)" opacity="0.1" style="mix-blend-mode:overlay"/><rect x="1457.7" y="25.8" width="277.0" height="95.7" filter="url(#noise)" opacity="0.2" style="mix-blend-mode:overlay"/></g>
<rect x="1685.8" y="108.6" width="41" height="7.9" fill="#fff"/>
<g fill="none" stroke="#000" stroke-width="5.0" stroke-linecap="round" stroke-linejoin="round"><path d="M1354.2,124.6 L1465.8,163.3"/><path d="M1446.1,139.4 L1465.8,163.3 L1435.5,169.9"/></g>
<g fill="none" stroke="#000" stroke-width="5.0" stroke-linecap="round" stroke-linejoin="round"><path d="M1601.6,130.8 L1433.0,236.2"/><path d="M1464.0,235.9 L1433.0,236.2 L1446.9,208.5"/></g>
<rect x="1639.6" y="163.9" width="89" height="26.2" fill="#fff"/>
<rect x="1639.6" y="209.5" width="89" height="26.2" fill="#fff"/>
<rect x="1639.6" y="255.1" width="89" height="26.2" fill="#fff"/>
<rect x="1639.6" y="300.7" width="89" height="26.2" fill="#fff"/>
<rect x="1639.6" y="346.3" width="18" height="26.2" fill="#fff"/>
<rect x="1600.2" y="175.8" width="27.59999999999991" height="184.59999999999997" fill="url(#vir)" stroke="#000" stroke-width="1.2"/>
<path d="M1627.8,176.8 h7 M1627.8,199.6 h4 M1627.8,222.4 h7 M1627.8,245.2 h4 M1627.8,268.0 h7 M1627.8,290.8 h4 M1627.8,313.6 h7 M1627.8,336.4 h4 M1627.8,359.2 h7" stroke="#000" stroke-width="1.5" fill="none"/>
<g id="labels">
<text transform="translate(2.27 34.28) scale(1.0140 1)" font-size="44.75" font-weight="bold">A</text>
<text transform="translate(64.36 35.80)" font-size="45.80" fill="#00007f" stroke="#00007f" stroke-width="0.7" stroke-linejoin="round">1</text>
<text transform="translate(100.65 35.80) scale(1.0944 1)" font-size="45.80" fill="#00007f" stroke="#00007f" stroke-width="0.7" stroke-linejoin="round">contour</text>
<text transform="translate(280.61 35.80) scale(1.0601 1)" font-size="45.80" fill="#00007f" stroke="#00007f" stroke-width="0.7" stroke-linejoin="round">detected</text>
<text transform="translate(59.77 263.00) scale(0.9152 1)" font-size="45.80" fill="#00007f" stroke="#00007f" stroke-width="0.7" stroke-linejoin="round">3</text>
<text transform="translate(97.09 263.00) scale(1.0720 1)" font-size="45.80" fill="#00007f" stroke="#00007f" stroke-width="0.7" stroke-linejoin="round">contours</text>
<text transform="translate(298.61 263.00) scale(1.0601 1)" font-size="45.80" fill="#00007f" stroke="#00007f" stroke-width="0.7" stroke-linejoin="round">detected</text>
<text transform="translate(527.23 34.20) scale(0.8465 1)" font-size="44.93" font-weight="bold">B</text>
<text transform="translate(622.30 397.14)" font-size="37.50" text-anchor="end" stroke="#fff" stroke-width="0.36">0.0</text>
<text transform="translate(622.30 345.28)" font-size="37.50" text-anchor="end" stroke="#fff" stroke-width="0.36">0.1</text>
<text transform="translate(622.30 293.42)" font-size="37.50" text-anchor="end" stroke="#fff" stroke-width="0.36">0.2</text>
<text transform="translate(622.30 241.57)" font-size="37.50" text-anchor="end" stroke="#fff" stroke-width="0.36">0.3</text>
<text transform="translate(622.30 189.71)" font-size="37.50" text-anchor="end" stroke="#fff" stroke-width="0.36">0.4</text>
<text transform="translate(622.30 137.85)" font-size="37.50" text-anchor="end" stroke="#fff" stroke-width="0.36">0.5</text>
<text transform="translate(622.30 85.99)" font-size="37.50" text-anchor="end" stroke="#fff" stroke-width="0.36">0.6</text>
<text transform="translate(622.30 34.14)" font-size="37.50" text-anchor="end" stroke="#fff" stroke-width="0.36">0.7</text>
<text transform="translate(631.80 421.55) scale(0.9600 1)" font-size="37.50" text-anchor="middle" stroke="#fff" stroke-width="0.36">0</text>
<text transform="translate(706.26 421.18) scale(0.9600 1)" font-size="37.50" text-anchor="middle" stroke="#fff" stroke-width="0.36">1</text>
<text transform="translate(780.72 421.55) scale(0.9600 1)" font-size="37.50" text-anchor="middle" stroke="#fff" stroke-width="0.36">2</text>
<text transform="translate(855.18 421.55) scale(0.9600 1)" font-size="37.50" text-anchor="middle" stroke="#fff" stroke-width="0.36">3</text>
<text transform="translate(929.64 421.18) scale(0.9600 1)" font-size="37.50" text-anchor="middle" stroke="#fff" stroke-width="0.36">4</text>
<text transform="translate(1004.10 421.18) scale(0.9600 1)" font-size="37.50" text-anchor="middle" stroke="#fff" stroke-width="0.36">5</text>
<text transform="translate(704.08 454.10) scale(1.1539 1)" font-size="37.30" stroke="#fff" stroke-width="0.36">Nr.</text>
<text transform="translate(766.41 454.10) scale(1.1486 1)" font-size="37.30" stroke="#fff" stroke-width="0.36">of</text>
<text transform="translate(810.94 454.10) scale(0.9952 1)" font-size="37.30" stroke="#fff" stroke-width="0.36">cells</text>
<text transform="translate(893.94 454.10) scale(1.0571 1)" font-size="36.00" stroke="#fff" stroke-width="0.36">(n)</text>
<text transform="translate(553.70 323.58) rotate(-90) scale(1.0113 1)" font-size="38.30" stroke="#fff" stroke-width="0.36">Probability (p)</text>
<text transform="translate(717.17 108.90) scale(0.9883 1)" font-size="37.90" fill="#0000ff" stroke="#fff" stroke-width="0.2">μ=1.0,</text>
<text transform="translate(831.50 108.90) scale(1.0554 1)" font-size="37.90" fill="#0000ff" stroke="#fff" stroke-width="0.2">p</text>
<text transform="translate(853.77 115.90) scale(0.8500 1)" font-size="24.00" fill="#0000ff" stroke="#fff" stroke-width="0.2">1</text>
<text transform="translate(867.48 108.90) scale(0.9628 1)" font-size="37.90" fill="#0000ff" stroke="#fff" stroke-width="0.2">=26.4%</text>
<text transform="translate(721.47 160.00) scale(0.9883 1)" font-size="37.90" fill="#ff0000" stroke="#fff" stroke-width="0.2">μ=0.4,</text>
<text transform="translate(835.81 160.00) scale(1.0495 1)" font-size="37.90" fill="#ff0000" stroke="#fff" stroke-width="0.2">p</text>
<text transform="translate(857.74 166.90) scale(1.0531 1)" font-size="24.00" fill="#ff0000" stroke="#fff" stroke-width="0.2">2</text>
<text transform="translate(871.80 160.00) scale(0.9510 1)" font-size="37.90" fill="#ff0000" stroke="#fff" stroke-width="0.2">=6.2%</text>
<text transform="translate(1023.81 33.78) scale(0.8175 1)" font-size="42.39" font-weight="bold" stroke="#000" stroke-width="1.4" stroke-linejoin="round">C</text>
<text transform="translate(1164.60 50.77)" font-size="37.88" text-anchor="end" stroke="#fff" stroke-width="0.36">52500</text>
<text transform="translate(1164.60 92.33)" font-size="37.88" text-anchor="end" stroke="#fff" stroke-width="0.36">50000</text>
<text transform="translate(1164.60 133.89)" font-size="37.88" text-anchor="end" stroke="#fff" stroke-width="0.36">47500</text>
<text transform="translate(1164.60 341.69)" font-size="37.88" text-anchor="end" stroke="#fff" stroke-width="0.36">35000</text>
<text transform="translate(1164.60 383.25)" font-size="37.88" text-anchor="end" stroke="#fff" stroke-width="0.36">32500</text>
<text transform="translate(1172.30 421.65) scale(1.0150 1)" font-size="37.50" text-anchor="middle" stroke="#fff" stroke-width="0.36">2000</text>
<text transform="translate(1359.20 421.65) scale(1.0150 1)" font-size="37.50" text-anchor="middle" stroke="#fff" stroke-width="0.36">2400</text>
<text transform="translate(1546.10 421.65) scale(1.0150 1)" font-size="37.50" text-anchor="middle" stroke="#fff" stroke-width="0.36">2800</text>
<text transform="translate(1733.00 421.65) scale(1.0150 1)" font-size="37.50" text-anchor="middle" stroke="#fff" stroke-width="0.36">3200</text>
<text transform="translate(1283.98 452.90) scale(1.0555 1)" font-size="37.20" stroke="#fff" stroke-width="0.36">Measurement</text>
<text transform="translate(1534.51 452.90) scale(1.0967 1)" font-size="37.20" stroke="#fff" stroke-width="0.36">time</text>
<text transform="translate(1621.34 452.90) scale(1.1038 1)" font-size="36.00" stroke="#fff" stroke-width="0.36">[s]</text>
<text transform="translate(1096.80 274.15) rotate(-90) scale(0.9679 1)" font-size="38.30" stroke="#fff" stroke-width="0.36">Event</text>
<text transform="translate(1142.60 294.80) rotate(-90) scale(1.0527 1)" font-size="38.30" stroke="#fff" stroke-width="0.36">number</text>
<text transform="translate(1584.82 307.25) rotate(-90) scale(1.0872 1)" font-size="32.68" stroke="#fff" stroke-width="0.36">ΔT [s]</text>
<text transform="translate(1636.60 189.67) scale(1.0050 1)" font-size="36.30" stroke="#fff" stroke-width="0.36">0.020</text>
<text transform="translate(1636.60 235.27) scale(1.0050 1)" font-size="36.30" stroke="#fff" stroke-width="0.36">0.015</text>
<text transform="translate(1636.60 280.87) scale(1.0050 1)" font-size="36.30" stroke="#fff" stroke-width="0.36">0.010</text>
<text transform="translate(1636.60 326.47) scale(1.0050 1)" font-size="36.30" stroke="#fff" stroke-width="0.36">0.005</text>
<text transform="translate(1636.60 372.07) scale(1.0050 1)" font-size="36.30" stroke="#fff" stroke-width="0.36">0</text>
</g>
</svg>
</body></html>
